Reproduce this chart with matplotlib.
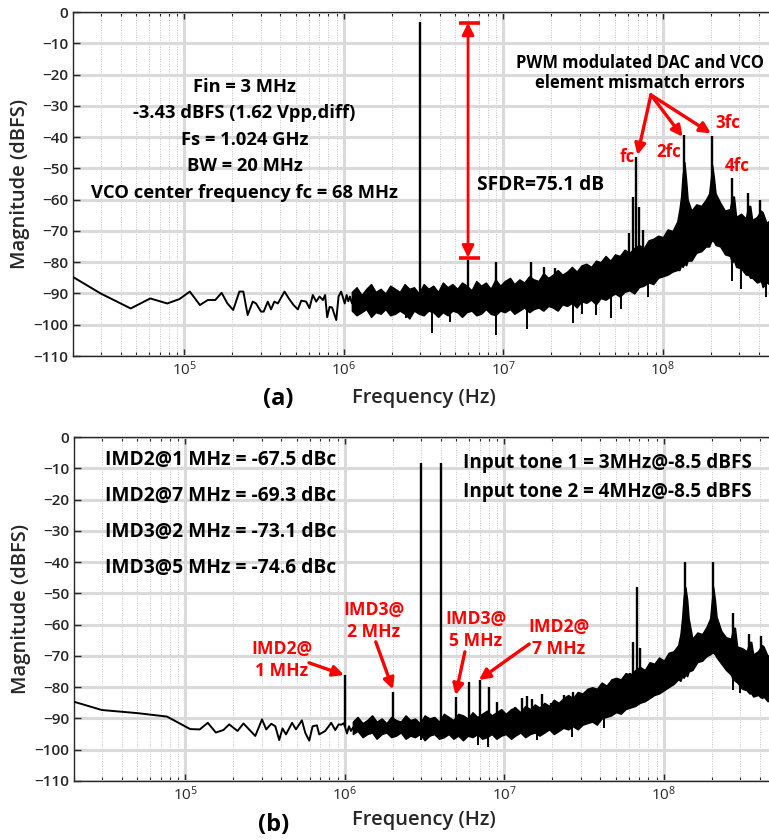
import matplotlib.pyplot as plt
import numpy as np
from matplotlib.ticker import FixedLocator, LogLocator, NullFormatter

plt.rcParams.update(
    {
        "font.family": ["Open Sans", "DejaVu Sans"],
        "font.size": 10,
        "axes.linewidth": 1.0,
        "mathtext.fontset": "custom",
        "mathtext.rm": "Open Sans",
        "mathtext.default": "regular",
    }
)

# ---------------- panel (a): single tone, 3 MHz ----------------
# low-frequency trace (MHz, dBFS)
lf_freq_a = [0.0198, 0.0298, 0.046, 0.061, 0.078, 0.093, 0.108, 0.125, 0.140, 0.156,
             0.171, 0.186, 0.202, 0.221, 0.234, 0.249, 0.268, 0.281, 0.302, 0.314,
             0.333, 0.349, 0.366, 0.385, 0.424, 0.451, 0.483, 0.514, 0.540, 0.579,
             0.608, 0.638, 0.670, 0.703, 0.738, 0.762, 0.785, 0.813, 0.843, 0.895,
             0.925, 0.960, 1.012, 1.040, 1.065, 1.090, 1.120]
lf_mag_a = [-84.6, -90.0, -94.8, -91.6, -93.2, -91.8, -89.4, -93.7, -92.1, -92.1,
            -89.8, -93.2, -95.3, -89.4, -89.4, -96.9, -92.6, -93.2, -95.8, -95.8,
            -92.6, -95.1, -92.6, -93.2, -89.4, -91.6, -93.7, -95.1, -92.3, -92.6,
            -94.7, -90.5, -92.6, -91.0, -92.1, -90.5, -97.6, -94.3, -94.5, -98.5,
            -91.0, -89.4, -93.2, -90.5, -92.5, -91.0, -93.0]

# frequencies of the dense noise envelope (MHz), shared by both panels
band_freq = [1.12, 1.20, 1.29, 1.38, 1.48, 1.58, 1.70, 1.82, 1.95, 2.09,
             2.24, 2.40, 2.57, 2.75, 2.95, 3.16, 3.39, 3.63, 3.89, 4.17,
             4.47, 4.79, 5.13, 5.50, 5.89, 6.31, 6.76, 7.24, 7.76, 8.32,
             8.91, 9.55, 10.2, 11.0, 11.7, 12.6, 13.5, 14.5, 15.5, 16.6,
             17.8, 19.1, 20.4, 21.9, 23.4, 25.1, 26.9, 28.8, 30.9, 33.1,
             35.5, 38.0, 40.7, 43.7, 46.8, 50.1, 53.7, 57.5, 61.7, 66.1,
             70.8, 75.9, 81.3, 87.1, 93.3, 100, 107, 115, 123, 127,
             130, 133, 136.5, 140, 143, 151, 162, 174, 186, 195,
             200, 204, 209, 214, 229, 245, 263, 272, 279, 288,
             309, 331, 343, 353, 363, 389, 412, 422, 447, 479,
             513]

band_hi_a = [-89.5, -88.0, -90.5, -88.5, -87.0, -89.5, -88.5, -90.0, -87.5, -88.5,
             -89.5, -87.0, -88.5, -88.0, -90.0, -87.0, -88.5, -87.5, -89.5, -86.5,
             -88.0, -87.0, -88.5, -86.5, -87.5, -89.0, -86.0, -87.5, -86.5, -88.5,
             -85.5, -87.5, -86.0, -85.0, -87.0, -85.5, -86.5, -84.5, -85.5, -86.0,
             -83.5, -85.0, -84.0, -82.5, -84.0, -83.0, -81.5, -83.0, -81.0, -80.5,
             -81.5, -79.5, -80.0, -78.0, -79.5, -77.5, -78.0, -76.0, -77.0, -75.5,
             -74.5, -75.5, -73.0, -72.5, -71.5, -72.0, -69.5, -70.0, -67.0, -63.0,
             -59.0, -52.0, -48.0, -54.0, -60.0, -63.5, -61.5, -62.0, -60.0, -58.0,
             -53.0, -49.0, -53.0, -58.0, -61.0, -63.5, -63.0, -59.0, -59.0, -65.5,
             -64.5, -66.0, -62.0, -62.0, -66.5, -65.5, -63.5, -64.0, -67.5, -66.0,
             -68.5]
band_lo_a = [-95.5, -97.0, -96.0, -95.0, -97.5, -96.0, -96.5, -95.0, -97.0, -96.5,
             -95.5, -96.5, -98.0, -95.5, -96.5, -97.0, -95.5, -96.0, -97.5, -96.0,
             -97.0, -95.5, -96.0, -97.5, -96.0, -95.5, -97.0, -96.5, -95.0, -96.5,
             -97.0, -95.5, -96.0, -95.0, -96.5, -95.5, -94.5, -96.0, -95.0, -94.5,
             -95.5, -94.0, -94.5, -95.5, -93.5, -94.0, -93.0, -94.5, -92.5, -93.0,
             -92.0, -93.5, -91.5, -92.0, -91.0, -90.0, -91.0, -89.5, -89.0, -90.0,
             -88.0, -87.5, -86.5, -87.0, -85.0, -84.5, -84.0, -83.0, -82.5, -82.5,
             -81.0, -81.5, -80.5, -81.0, -79.5, -79.5, -77.0, -76.5, -75.0, -75.0,
             -73.5, -73.0, -73.5, -74.5, -75.0, -77.5, -78.0, -80.0, -79.5, -81.5,
             -82.0, -84.0, -84.0, -85.0, -85.0, -86.5, -86.0, -88.0, -86.5, -87.5,
             -86.0]

# narrow spurs (MHz, peak dBFS)
spur_freq_a = [3.0, 6.0, 9.0, 15.0, 18.0, 21.0, 29.0, 34.0,
               61.5, 64.8, 68.0, 71.2, 74.5, 136, 204, 272, 340, 408]
spur_top_a = [-3.3, -79.3, -80.0, -80.0, -81.5, -82.0, -83.5, -83.0,
              -70.8, -59.0, -46.3, -62.3, -69.7, -39.3, -39.8, -53.2, -58.0, -60.1]

# downward noise dips (MHz, dBFS)
dip_freq_a = [2.45, 3.56, 4.6, 9.0, 14.1, 27.5, 31.0, 38.0, 47.0, 55.0,
              81.0, 270, 310, 440]
dip_mag_a = [-98.0, -102.6, -99.0, -103.3, -101.3, -99.6, -96.5, -97.0, -98.0, -95.0,
             -91.0, -86.0, -88.5, -91.0]

# ---------------- panel (b): two tones, 3 MHz and 4 MHz ----------------
lf_freq_b = [0.0198, 0.0299, 0.050, 0.0766, 0.107, 0.123, 0.138, 0.155, 0.173, 0.188,
             0.212, 0.231, 0.274, 0.302, 0.321, 0.345, 0.366, 0.387, 0.406, 0.427,
             0.466, 0.493, 0.537, 0.564, 0.597, 0.627, 0.667, 0.690, 0.752, 0.820,
             0.869, 0.914, 0.948, 0.985, 1.030, 1.060, 1.090, 1.120]
lf_mag_b = [-84.6, -87.3, -88.3, -89.4, -93.4, -93.5, -91.4, -94.5, -93.7, -91.9,
            -94.0, -91.6, -95.6, -90.3, -93.5, -91.7, -92.5, -96.9, -93.2, -95.1,
            -91.4, -93.5, -90.6, -94.6, -97.1, -92.5, -92.2, -95.1, -94.0, -91.4,
            -93.7, -91.9, -92.0, -91.5, -94.8, -92.5, -94.0, -93.0]

band_hi_b = [-91.0, -89.5, -91.5, -90.5, -89.0, -91.0, -90.0, -91.5, -89.5, -90.5,
             -91.0, -89.0, -90.5, -90.0, -91.5, -89.0, -90.0, -89.5, -91.0, -88.5,
             -89.5, -90.5, -88.5, -89.0, -90.0, -88.0, -89.5, -88.5, -87.5, -89.0,
             -88.0, -87.0, -88.5, -87.0, -86.5, -88.0, -86.0, -87.0, -85.5, -86.5,
             -85.0, -86.0, -84.0, -85.0, -83.5, -82.5, -83.5, -81.5, -82.0, -80.5,
             -80.0, -80.5, -78.5, -79.5, -77.5, -77.0, -77.5, -75.5, -76.0, -74.5,
             -73.5, -74.5, -72.0, -72.5, -70.5, -71.5, -69.0, -68.5, -66.5, -63.0,
             -58.0, -51.0, -48.0, -52.0, -58.0, -64.5, -62.5, -63.0, -60.5, -58.0,
             -52.0, -48.0, -52.0, -57.5, -62.0, -64.0, -64.5, -61.0, -61.0, -67.0,
             -67.5, -68.5, -65.5, -65.5, -69.5, -68.5, -66.5, -67.0, -70.0, -69.0,
             -71.0]
band_lo_b = [-95.0, -94.0, -96.0, -95.0, -94.5, -96.5, -95.0, -94.5, -96.0, -95.5,
             -94.5, -96.5, -95.5, -96.0, -95.0, -97.0, -95.5, -95.0, -96.5, -96.0,
             -95.0, -96.5, -95.5, -97.0, -95.5, -96.0, -95.0, -96.5, -96.0, -95.0,
             -96.5, -95.5, -95.0, -96.5, -95.5, -94.5, -96.0, -95.0, -94.5, -95.5,
             -94.5, -93.5, -95.0, -94.0, -93.0, -93.5, -92.5, -93.5, -92.0, -91.5,
             -91.0, -92.0, -90.0, -89.5, -89.0, -88.0, -88.5, -87.0, -86.5, -86.0,
             -85.0, -84.5, -83.5, -82.5, -82.0, -81.0, -80.0, -79.0, -77.5, -78.0,
             -76.5, -77.0, -76.0, -76.5, -75.0, -74.5, -72.0, -71.5, -70.0, -69.5,
             -69.0, -69.0, -69.5, -70.5, -72.5, -74.5, -76.0, -77.5, -78.0, -78.5,
             -80.5, -81.0, -82.0, -82.0, -83.0, -82.5, -83.5, -83.0, -84.5, -83.5,
             -84.5]

spur_freq_b = [1.0, 2.0, 3.0, 4.0, 5.0, 6.0, 7.0, 8.0, 9.0, 11.7, 12.9, 13.8, 14.9,
               17.3, 19.5, 23.5, 27.0, 33.0, 61.0, 64.0, 68.0, 71.0,
               136, 204, 272, 340, 408]
spur_top_b = [-76.1, -81.4, -8.4, -8.4, -83.0, -78.2, -77.7, -79.8, -84.6, -86.2, -83.5,
              -82.8, -83.8, -82.2, -85.0, -82.5, -81.4, -82.0, -75.6, -65.5, -47.9, -67.6,
              -39.9, -39.9, -56.2, -63.0, -63.6]

dip_freq_b = [3.0, 4.0, 6.8, 7.9, 16.0, 26.6, 42.0, 270, 300, 500]
dip_mag_b = [-96.9, -96.5, -98.5, -99.0, -97.0, -95.8, -93.0, -80.9, -82.0, -85.5]

# ---------------- annotation text ----------------
info_lines_a = ["Fin = 3 MHz", "-3.43 dBFS (1.62 Vpp,diff)", "Fs = 1.024 GHz",
                "BW = 20 MHz", "VCO center frequency fc = 68 MHz"]
info_lines_b = ["IMD2@1 MHz = -67.5 dBc", "IMD2@7 MHz = -69.3 dBc",
                "IMD3@2 MHz = -73.1 dBc", "IMD3@5 MHz = -74.6 dBc"]
tone_lines_b = ["Input tone 1 = 3MHz@-8.5 dBFS", "Input tone 2 = 4MHz@-8.5 dBFS"]

RED = "#ff0000"
GRID_MAJOR = "#dadada"
GRID_MINOR = "#c4c4c4"
TXT = "#262626"


def draw_spectrum(ax, lf_f, lf_m, bf, bhi, blo, sf, st, df, dm):
    lf_f = np.asarray(lf_f) * 1e6
    bf = np.asarray(bf) * 1e6
    ax.plot(lf_f, lf_m, color="k", lw=1.4, zorder=3)
    ax.fill_between(bf, blo, bhi, color="k", lw=1.0, zorder=3)
    # base of each spur sits on the lower edge of the trace
    all_f = np.log10(np.concatenate([lf_f, bf]))
    all_lo = np.concatenate([lf_m, blo])
    order = np.argsort(all_f)
    sf = np.asarray(sf) * 1e6
    base = np.interp(np.log10(sf), all_f[order], all_lo[order])
    ax.vlines(sf, base, st, color="k", lw=1.7, zorder=3)
    df = np.asarray(df) * 1e6
    top = np.interp(np.log10(df), all_f[order], all_lo[order])
    ax.vlines(df, top, dm, color="k", lw=1.4, zorder=3)


def style_axes(ax):
    ax.set_xscale("log")
    ax.set_xlim(2e4, 5.12e8)
    ax.set_ylim(-110, 0)
    ax.set_yticks(np.arange(-110, 1, 10))
    ax.xaxis.set_major_locator(FixedLocator([1e5, 1e6, 1e7, 1e8]))
    ax.xaxis.set_minor_locator(LogLocator(base=10, subs=np.arange(2, 10), numticks=30))
    ax.xaxis.set_minor_formatter(NullFormatter())
    ax.grid(which="major", color=GRID_MAJOR, lw=2.2)
    ax.grid(which="minor", axis="x", color=GRID_MINOR, lw=0.7, ls=(0, (1, 1.5)))
    ax.set_axisbelow(True)
    ax.tick_params(which="both", direction="in", top=True, right=True,
                   colors=TXT, labelsize=11)
    ax.tick_params(which="major", length=5, width=1.0)
    ax.tick_params(which="minor", length=3, width=0.8)
    for lab in ax.get_yticklabels():
        lab.set_fontweight("semibold")
    for spine in ax.spines.values():
        spine.set_color(TXT)


def red_arrow(ax, start, end):
    ax.annotate("", xy=end, xytext=start,
                arrowprops=dict(arrowstyle="-|>", color=RED, lw=2.4,
                                mutation_scale=16, shrinkA=0, shrinkB=0),
                zorder=5)


fig = plt.figure(figsize=(7.69, 8.40), dpi=100)
W, H = 769.0, 840.0
ax_a = fig.add_axes([73 / W, (H - 356) / H, (776 - 73) / W, 344 / H])
ax_b = fig.add_axes([74 / W, (H - 781) / H, (777 - 74) / W, 344 / H])

for ax in (ax_a, ax_b):
    style_axes(ax)
    ax.set_ylabel("Magnitude (dBFS)", fontsize=14.5, fontweight="semibold",
                  color=TXT, labelpad=2)

draw_spectrum(ax_a, lf_freq_a, lf_mag_a, band_freq, band_hi_a, band_lo_a,
              spur_freq_a, spur_top_a, dip_freq_a, dip_mag_a)
draw_spectrum(ax_b, lf_freq_b, lf_mag_b, band_freq, band_hi_b, band_lo_b,
              spur_freq_b, spur_top_b, dip_freq_b, dip_mag_b)

# ---- panel (a) annotations
for line, y in zip(info_lines_a, [-24.0, -32.3, -40.9, -49.2, -57.9]):
    ax_a.text(2.38e5, y, line, ha="center", va="center", fontsize=13.2,
              fontweight="bold", zorder=6)

ax_a.annotate("", xy=(6e6, -3.43), xytext=(6e6, -78.53),
              arrowprops=dict(arrowstyle="<|-|>", color=RED, lw=2.0,
                              mutation_scale=18, shrinkA=0, shrinkB=0), zorder=5)
ax_a.hlines([-3.43, -78.53], 5.25e6, 7.1e6, color=RED, lw=2.6, zorder=5)
ax_a.text(6.84e6, -55.3, "SFDR=75.1 dB", ha="left", va="center",
          fontsize=13.8, fontweight="bold", zorder=6)

ax_a.text(7.16e7, -16.3, "PWM modulated DAC and VCO", ha="center", va="center",
          fontsize=11.9, fontweight="bold", zorder=6)
ax_a.text(7.16e7, -22.7, "element mismatch errors", ha="center", va="center",
          fontsize=11.9, fontweight="bold", zorder=6)
for end in [(6.93e7, -45.7), (1.33e8, -39.9), (2.0e8, -38.8)]:
    red_arrow(ax_a, (8.41e7, -26.5), end)
for lab, xy in [("fc", (5.94e7, -46.4)), ("2fc", (1.09e8, -44.8)),
                ("3fc", (2.55e8, -35.6)), ("4fc", (2.92e8, -49.2))]:
    ax_a.text(*xy, lab, color=RED, ha="center", va="center", fontsize=12.2,
              fontweight="bold", zorder=6)

# ---- panel (b) annotations
for line, y in zip(info_lines_b, [-7.4, -18.9, -30.4, -42.0]):
    ax_b.text(3.11e4, y, line, ha="left", va="center", fontsize=13.9,
              fontweight="bold", zorder=6)
for line, y in zip(tone_lines_b, [-8.2, -17.5]):
    ax_b.text(5.5e6, y, line, ha="left", va="center", fontsize=13.6,
              fontweight="bold", zorder=6)

imd_labels = [("IMD2@\n1 MHz", (4.03e5, -71.3), (5.95e5, -72.2), (9.86e5, -76.1)),
              ("IMD3@\n2 MHz", (1.52e6, -58.9), (1.56e6, -65.5), (2.0e6, -80.7)),
              ("IMD3@\n5 MHz", (6.59e6, -61.6), (5.65e6, -68.7), (4.94e6, -82.5)),
              ("IMD2@\n7 MHz", (2.2e7, -64.4), (1.43e7, -66.2), (6.92e6, -77.7))]
for text, pos, start, end in imd_labels:
    ax_b.text(*pos, text, color=RED, ha="center", va="center", fontsize=12.6,
              fontweight="bold", linespacing=1.3, zorder=6)
    red_arrow(ax_b, start, end)

# ---- panel captions and x labels
fig.text(278 / W, 1 - 399 / H, "(a)", ha="center", va="center", fontsize=17,
         fontweight="bold")
fig.text(424 / W, 1 - 398 / H, "Frequency (Hz)", ha="center", va="center",
         fontsize=14.5, fontweight="semibold", color=TXT)
fig.text(274 / W, 1 - 825 / H, "(b)", ha="center", va="center", fontsize=17,
         fontweight="bold")
fig.text(424 / W, 1 - 820 / H, "Frequency (Hz)", ha="center", va="center",
         fontsize=14.5, fontweight="semibold", color=TXT)

fig.savefig("out.png", dpi=100)
